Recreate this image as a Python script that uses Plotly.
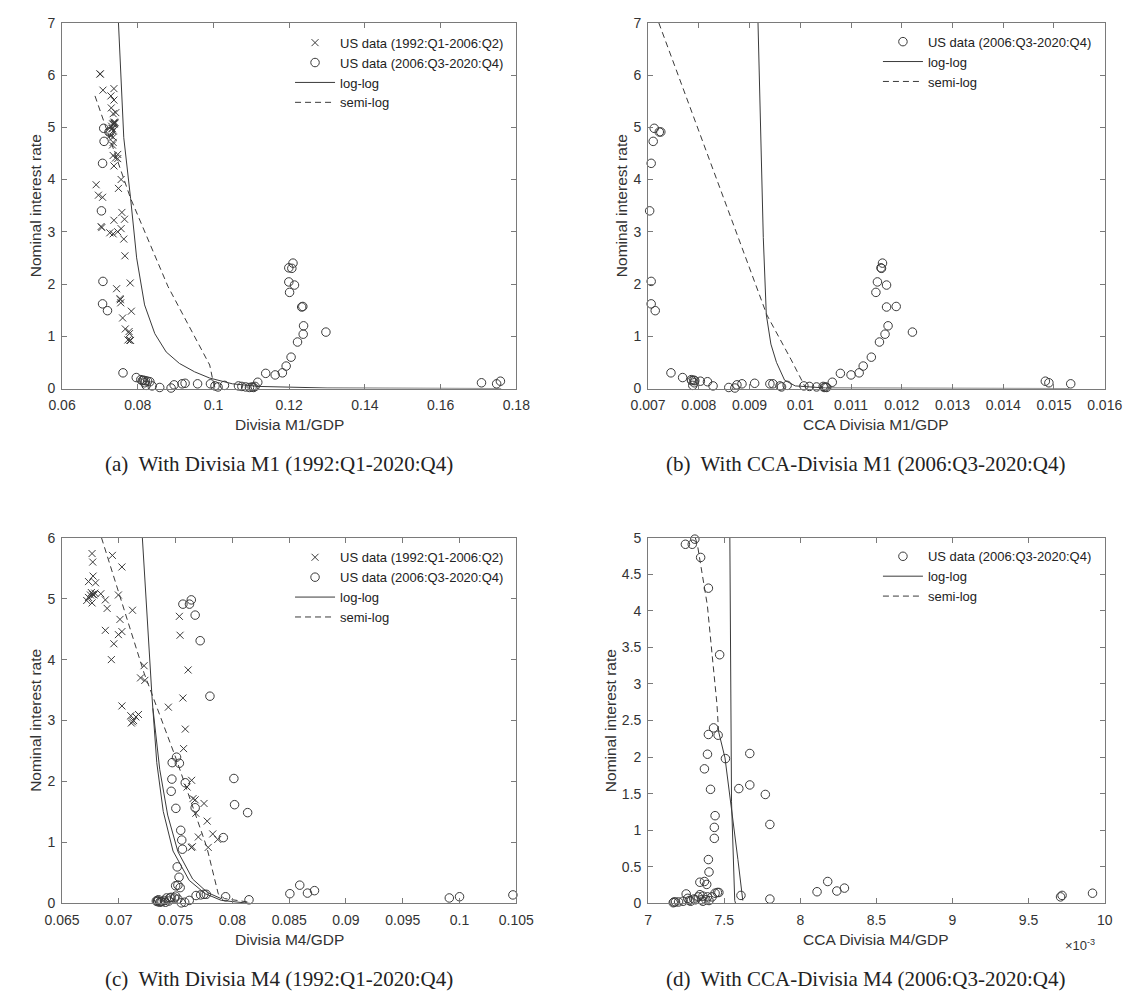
import plotly.graph_objects as go

# ---------------------------------------------------------------------------
# Nominal interest rate (percent), quarterly
# ---------------------------------------------------------------------------
# 1992:Q1 - 2006:Q2
rate_pre = [3.90, 3.70, 3.10, 3.08, 2.98, 2.96, 3.00, 3.06,
            3.24, 4.00, 4.48, 5.28, 5.74, 5.60, 5.37, 5.26,
            4.93, 5.02, 5.10, 4.97, 5.06, 5.07, 5.06, 5.09,
            5.08, 4.98, 4.84, 4.26, 4.41, 4.46, 4.66, 5.06,
            5.52, 5.71, 6.02, 6.02, 4.81, 3.66, 3.22, 1.91,
            1.72, 1.70, 1.64, 1.35, 1.14, 1.05, 0.92, 0.92,
            0.93, 1.09, 1.48, 2.02, 2.54, 2.86, 3.37, 3.83,
            4.40, 4.71]
# 2006:Q3 - 2020:Q4
rate_post = [4.91, 4.91, 4.98, 4.73, 4.31, 3.40, 2.05, 1.62,
             1.49, 0.30, 0.21, 0.17, 0.16, 0.06, 0.11, 0.15,
             0.15, 0.14, 0.13, 0.05, 0.02, 0.01, 0.07, 0.09,
             0.10, 0.09, 0.09, 0.05, 0.03, 0.06, 0.05, 0.04,
             0.03, 0.02, 0.03, 0.02, 0.04, 0.12, 0.29, 0.26,
             0.30, 0.43, 0.60, 0.89, 1.04, 1.20, 1.56, 1.84,
             2.04, 2.31, 2.40, 2.30, 1.98, 1.57, 1.08, 0.14,
             0.11, 0.09]

# ---------------------------------------------------------------------------
# Money / GDP ratios
# ---------------------------------------------------------------------------
m1_gdp_pre = [0.0690, 0.0696, 0.0703, 0.0705, 0.0726, 0.0735, 0.0747, 0.0756,
              0.0765, 0.0756, 0.0747, 0.0742, 0.0737, 0.0729, 0.0730, 0.0735,
              0.0735, 0.0731, 0.0738, 0.0733, 0.0736, 0.0739, 0.0734, 0.0740,
              0.0737, 0.0732, 0.0727, 0.0737, 0.0741, 0.0735, 0.0733, 0.0736,
              0.0737, 0.0708, 0.0700, 0.0701, 0.0735, 0.0707, 0.0737, 0.0744,
              0.0753, 0.0754, 0.0755, 0.0760, 0.0767, 0.0778, 0.0781, 0.0779,
              0.0774, 0.0777, 0.0783, 0.0780, 0.0766, 0.0763, 0.0758, 0.0749,
              0.0747, 0.0735]
m1_gdp_post = [0.0727, 0.0724, 0.0710, 0.0711, 0.0707, 0.0704, 0.0708, 0.0707,
               0.0720, 0.0761, 0.0796, 0.0808, 0.0815, 0.0822, 0.0818, 0.0812,
               0.0820, 0.0826, 0.0832, 0.0838, 0.0858, 0.0888, 0.0896, 0.0917,
               0.0925, 0.0958, 0.0992, 0.1004, 0.1012, 0.1029, 0.1066, 0.1075,
               0.1085, 0.1095, 0.1102, 0.1106, 0.1110, 0.1117, 0.1138, 0.1163,
               0.1182, 0.1192, 0.1205, 0.1222, 0.1237, 0.1238, 0.1233, 0.1201,
               0.1199, 0.1199, 0.1210, 0.1207, 0.1214, 0.1236, 0.1297, 0.1758,
               0.1708, 0.1748]
cca_m1_gdp_post = [0.00722, 0.00725, 0.00712, 0.00710, 0.00706, 0.00703, 0.00706, 0.00706,
                   0.00714, 0.00745, 0.00768, 0.00785, 0.00790, 0.00788, 0.00791, 0.00786,
                   0.00792, 0.00803, 0.00817, 0.00828, 0.00859, 0.00871, 0.00875, 0.00885,
                   0.00910, 0.00940, 0.00946, 0.00960, 0.00963, 0.00974, 0.01007, 0.01018,
                   0.01032, 0.01047, 0.01050, 0.01052, 0.01045, 0.01063, 0.01079, 0.01100,
                   0.01116, 0.01124, 0.01140, 0.01156, 0.01167, 0.01173, 0.01170, 0.01149,
                   0.01152, 0.01159, 0.01162, 0.01160, 0.01170, 0.01189, 0.01221, 0.01483,
                   0.01490, 0.01533]
m4_gdp_pre = [0.07222, 0.07191, 0.07173, 0.07105, 0.07120, 0.07110, 0.07130, 0.07150,
              0.07027, 0.06934, 0.06881, 0.06733, 0.06764, 0.06770, 0.06773, 0.06795,
              0.06764, 0.06733, 0.06758, 0.06717, 0.06750, 0.06770, 0.06780, 0.06788,
              0.06841, 0.06881, 0.06897, 0.06956, 0.06996, 0.07027, 0.07010, 0.06996,
              0.07027, 0.06943, 0.07050, 0.07060, 0.07120, 0.07229, 0.07436, 0.07601,
              0.07653, 0.07672, 0.07750, 0.07778, 0.07827, 0.07871, 0.07787, 0.07638,
              0.07647, 0.07700, 0.07678, 0.07641, 0.07570, 0.07585, 0.07564, 0.07610,
              0.07539, 0.07533]
m4_gdp_post = [0.07564, 0.07622, 0.07638, 0.07672, 0.07716, 0.07802, 0.08013, 0.08019,
               0.08134, 0.08593, 0.08723, 0.08661, 0.08506, 0.08146, 0.07940, 0.07750,
               0.07770, 0.07720, 0.07680, 0.07620, 0.07580, 0.07550, 0.07520, 0.07490,
               0.07460, 0.07450, 0.07420, 0.07400, 0.07370, 0.07350, 0.07340, 0.07330,
               0.07340, 0.07360, 0.07380, 0.07410, 0.07440, 0.07500, 0.07500, 0.07540,
               0.07520, 0.07530, 0.07514, 0.07560, 0.07554, 0.07545, 0.07502, 0.07461,
               0.07467, 0.07470, 0.07508, 0.07533, 0.07585, 0.07672, 0.07920, 0.10470,
               0.10000, 0.09910]
cca_m4_gdp_post = [0.007245, 0.007290, 0.007307, 0.007345, 0.007396, 0.007470, 0.007668, 0.007668,
                   0.007770, 0.008180, 0.008290, 0.008240, 0.008110, 0.007800, 0.007610, 0.007465,
                   0.007455, 0.007440, 0.007250, 0.007310, 0.007200, 0.007165, 0.007260, 0.007330,
                   0.007360, 0.007390, 0.007420, 0.007350, 0.007280, 0.007300, 0.007380, 0.007400,
                   0.007360, 0.007170, 0.007230, 0.007180, 0.007270, 0.007340, 0.007340, 0.007385,
                   0.007370, 0.007400, 0.007396, 0.007435, 0.007435, 0.007440, 0.007410, 0.007370,
                   0.007390, 0.007396, 0.007430, 0.007460, 0.007508, 0.007596, 0.007800, 0.009920,
                   0.009720, 0.009710]

# ---------------------------------------------------------------------------
# Fitted money-demand curves (log-log and semi-log)
# ---------------------------------------------------------------------------
loglog_a_x = [0.0749, 0.0763, 0.0781, 0.0797, 0.0818, 0.0845, 0.0875, 0.0910, 0.0950,
              0.0990, 0.1050, 0.1120, 0.1300, 0.1760]
loglog_a_y = [7.0, 4.8, 3.64, 2.5, 1.6, 1.05, 0.70, 0.48, 0.32, 0.20, 0.09, 0.04, 0.01, 0.0]
semilog_a_x = [0.0687, 0.0781, 0.0880, 0.0990, 0.1000, 0.1005]
semilog_a_y = [5.6, 3.64, 1.95, 0.45, 0.10, 0.0]

loglog_b_x = [0.009166, 0.00927, 0.00933, 0.00942, 0.00953, 0.00969, 0.0099, 0.0105, 0.0153]
loglog_b_y = [7.0, 2.89, 1.41, 0.85, 0.5, 0.16, 0.05, 0.01, 0.0]
semilog_b_x = [0.00721, 0.00934, 0.00982, 0.01004, 0.0101]
semilog_b_y = [7.0, 1.41, 0.55, 0.12, 0.02]

loglog_c_x = [0.07207, 0.07292, 0.07334, 0.07391, 0.07477, 0.07619, 0.07761, 0.07903, 0.08159]
loglog_c_y = [6.0, 3.39, 2.31, 1.51, 0.86, 0.38, 0.16, 0.05, 0.0]
loglog_c2_x = [0.07300, 0.07360, 0.07430, 0.07520, 0.07650, 0.07780, 0.07900]
loglog_c2_y = [3.2, 2.2, 1.45, 0.85, 0.4, 0.18, 0.08]
semilog_c_x = [0.06847, 0.07222, 0.07505, 0.07662, 0.07775, 0.07875, 0.0793, 0.0815]
semilog_c_y = [6.0, 3.78, 2.37, 1.51, 0.92, 0.16, 0.08, 0.02]

loglog_d_x = [0.007537, 0.007548, 0.007569, 0.007575]
loglog_d_y = [5.0, 1.39, 0.04, 0.0]
semilog_d_x = [0.00731, 0.007325, 0.007346, 0.007389, 0.00742, 0.007452, 0.007463]
semilog_d_y = [5.0, 4.89, 4.62, 4.08, 3.41, 2.73, 2.35]
semilog_d2_x = [0.007463, 0.007505, 0.00759, 0.007622]
semilog_d2_y = [2.35, 1.99, 0.6, 0.04]

# Tick values and labels
ticks_a_x = [0.06, 0.08, 0.10, 0.12, 0.14, 0.16, 0.18]
labels_a_x = ["0.06", "0.08", "0.1", "0.12", "0.14", "0.16", "0.18"]
ticks_b_x = [0.007, 0.008, 0.009, 0.010, 0.011, 0.012, 0.013, 0.014, 0.015, 0.016]
labels_b_x = ["0.007", "0.008", "0.009", "0.01", "0.011", "0.012", "0.013", "0.014", "0.015", "0.016"]
ticks_c_x = [0.065, 0.070, 0.075, 0.080, 0.085, 0.090, 0.095, 0.100, 0.105]
labels_c_x = ["0.065", "0.07", "0.075", "0.08", "0.085", "0.09", "0.095", "0.1", "0.105"]
ticks_d_x = [0.0070, 0.0075, 0.0080, 0.0085, 0.0090, 0.0095, 0.0100]
labels_d_x = ["7", "7.5", "8", "8.5", "9", "9.5", "10"]
ticks_d_y = [0, 0.5, 1, 1.5, 2, 2.5, 3, 3.5, 4, 4.5, 5]
labels_d_y = ["0", "0.5", "1", "1.5", "2", "2.5", "3", "3.5", "4", "4.5", "5"]

LABEL_PRE = "US data (1992:Q1-2006:Q2)"
LABEL_POST = "US data (2006:Q3-2020:Q4)"

W, H = 1144, 1001
INK = "#3a3a3a"
AXIS = "#7a7a7a"
SANS = "Liberation Sans, Arial, sans-serif"
SERIF = "Liberation Serif, Times New Roman, serif"
DASH = "6px,4px"

fig = go.Figure()


def add_panel(n, series, curves, legend_name):
    xa = "x" if n == 1 else f"x{n}"
    ya = "y" if n == 1 else f"y{n}"
    for xs, ys, name, sym in series:
        fig.add_trace(go.Scatter(
            x=xs, y=ys, mode="markers", name=name, xaxis=xa, yaxis=ya,
            legend=legend_name, cliponaxis=False,
            marker=dict(symbol=sym, size=7 if sym == "x-thin" else 8.5,
                        color="rgba(255,255,255,0)",
                        line=dict(color=INK, width=1)),
        ))
    for xs, ys, name, dash, show in curves:
        fig.add_trace(go.Scatter(
            x=xs, y=ys, mode="lines", name=name, xaxis=xa, yaxis=ya,
            legend=legend_name, showlegend=show, legendgroup=f"{name}{n}",
            line=dict(color=INK, width=1, dash=dash),
        ))


add_panel(1,
          [(m1_gdp_pre, rate_pre, LABEL_PRE, "x-thin"),
           (m1_gdp_post, rate_post, LABEL_POST, "circle")],
          [(loglog_a_x, loglog_a_y, "log-log", "solid", True),
           (semilog_a_x, semilog_a_y, "semi-log", DASH, True)],
          "legend")
add_panel(2,
          [(cca_m1_gdp_post, rate_post, LABEL_POST, "circle")],
          [(loglog_b_x, loglog_b_y, "log-log", "solid", True),
           (semilog_b_x, semilog_b_y, "semi-log", DASH, True)],
          "legend2")
add_panel(3,
          [(m4_gdp_pre, rate_pre, LABEL_PRE, "x-thin"),
           (m4_gdp_post, rate_post, LABEL_POST, "circle")],
          [(loglog_c_x, loglog_c_y, "log-log", "solid", True),
           (semilog_c_x, semilog_c_y, "semi-log", DASH, True),
           (loglog_c2_x, loglog_c2_y, "log-log", "solid", False)],
          "legend3")
add_panel(4,
          [(cca_m4_gdp_post, rate_post, LABEL_POST, "circle")],
          [(loglog_d_x, loglog_d_y, "log-log", "solid", True),
           (semilog_d_x, semilog_d_y, "semi-log", DASH, True),
           (semilog_d2_x, semilog_d2_y, "semi-log", "solid", False)],
          "legend4")


def px_x(v):
    return v / W


def px_y(v):
    return 1 - v / H


# Plot-area boxes in pixels: (left, right, top, bottom)
boxes = {
    1: (45.5, 514.5, 15.0, 386.7),
    2: (650.6, 1122.0, 15.0, 386.7),
    3: (45.5, 514.5, 538.3, 910.0),
    4: (650.6, 1122.0, 538.3, 910.0),
}
xranges = {1: [0.06, 0.18], 2: [0.007, 0.016], 3: [0.065, 0.105], 4: [0.007, 0.010]}
yranges = {1: [0, 7], 2: [0, 7], 3: [0, 6], 4: [0, 5]}
xticks = {1: (ticks_a_x, labels_a_x), 2: (ticks_b_x, labels_b_x),
          3: (ticks_c_x, labels_c_x), 4: (ticks_d_x, labels_d_x)}

axis_common = dict(
    showline=True, linecolor=AXIS, linewidth=1, mirror="allticks",
    ticks="inside", ticklen=5, tickwidth=1, tickcolor=AXIS,
    showgrid=False, zeroline=False,
    tickfont=dict(family=SANS, size=14, color="#333333"),
)

layout = {}
for n, (l, r, t, b) in boxes.items():
    xk = "xaxis" if n == 1 else f"xaxis{n}"
    yk = "yaxis" if n == 1 else f"yaxis{n}"
    xa = "x" if n == 1 else f"x{n}"
    ya = "y" if n == 1 else f"y{n}"
    tv, tt = xticks[n]
    layout[xk] = dict(axis_common, domain=[px_x(l), px_x(r)], range=xranges[n],
                      anchor=ya, tickvals=tv, ticktext=tt, ticklabelstandoff=4)
    ydict = dict(axis_common, domain=[px_y(b), px_y(t)], range=yranges[n],
                 anchor=xa, dtick=1, tick0=0, ticklabelstandoff=3)
    if n == 4:
        ydict.update(tickvals=ticks_d_y, ticktext=labels_d_y)
    layout[yk] = ydict

# Legends, one per panel
legend_style = dict(font=dict(family=SANS, size=13, color="#222222"),
                    bgcolor="rgba(0,0,0,0)", borderwidth=0,
                    xanchor="right", yanchor="top", tracegroupgap=0,
                    itemwidth=40)
layout["legend"] = dict(legend_style, x=px_x(507), y=px_y(20))
layout["legend2"] = dict(legend_style, x=px_x(1114), y=px_y(19))
layout["legend3"] = dict(legend_style, x=px_x(507), y=px_y(543))
layout["legend4"] = dict(legend_style, x=px_x(1114), y=px_y(542))

annotations = []


def label(text, x, y, size, family=SANS, angle=0, color="#333333"):
    annotations.append(dict(text=text, x=px_x(x), y=px_y(y), xref="paper", yref="paper",
                            showarrow=False, xanchor="center", yanchor="middle",
                            textangle=angle, font=dict(family=family, size=size, color=color)))


# Axis titles
label("Divisia M1/GDP", 280, 423, 15.5)
label("CCA Divisia M1/GDP", 886, 423, 15.5)
label("Divisia M4/GDP", 280, 947, 15.5)
label("CCA Divisia M4/GDP", 886, 947, 15.5)
label("Nominal interest rate", 18, 201, 15.5, angle=-90)
label("Nominal interest rate", 623, 201, 15.5, angle=-90)
label("Nominal interest rate", 18, 724, 15.5, angle=-90)
label("Nominal interest rate", 612, 724, 15.5, angle=-90)
label("×10<sup>-3</sup>", 1097, 952, 13)

# Sub-figure captions
label("(a)  With Divisia M1 (1992:Q1-2020:Q4)", 269, 463, 21, family=SERIF, color="#222222")
label("(b)  With CCA-Divisia M1 (2006:Q3-2020:Q4)", 876, 463, 21, family=SERIF, color="#222222")
label("(c)  With Divisia M4 (1992:Q1-2020:Q4)", 269, 987, 21, family=SERIF, color="#222222")
label("(d)  With CCA-Divisia M4 (2006:Q3-2020:Q4)", 876, 987, 21, family=SERIF, color="#222222")

fig.update_layout(
    width=W, height=H, margin=dict(l=0, r=0, t=0, b=0),
    paper_bgcolor="white", plot_bgcolor="white",
    annotations=annotations, **layout,
)

fig.write_html("out.html")
